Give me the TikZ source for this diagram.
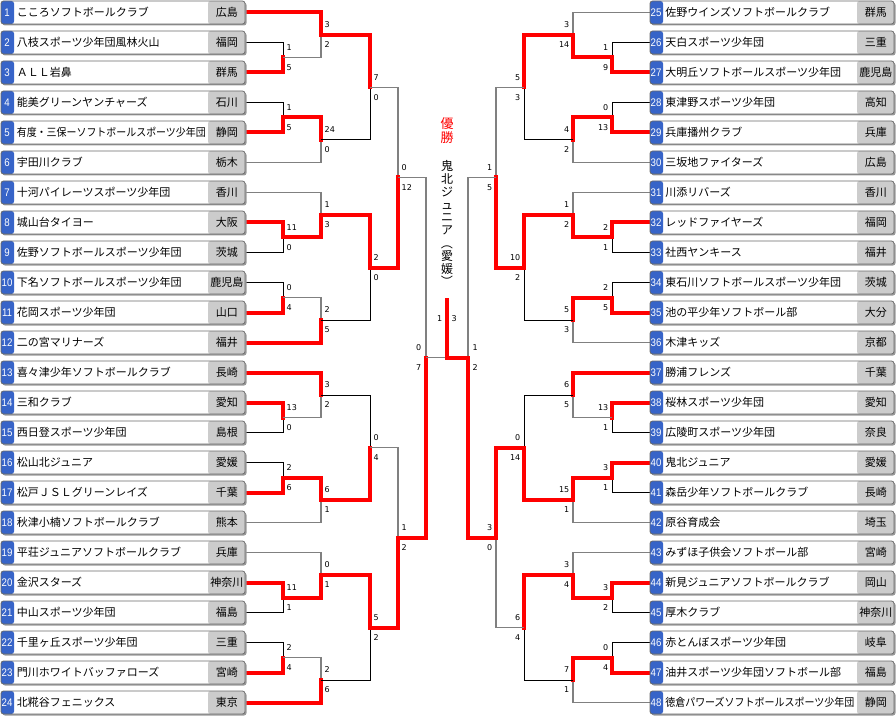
\documentclass[tikz,border=0pt]{standalone}
\usepackage{fontspec}
\usepackage{graphicx}
\newfontfamily\jp{Noto Sans CJK JP}
\newfontfamily\numfont{DejaVu Sans}
\newfontfamily\idfont{Liberation Sans}
\usetikzlibrary{calc}
\usetikzlibrary{shadows}
\definecolor{IDblue}{RGB}{55,100,200}
\definecolor{PF}{RGB}{204,204,204}
\definecolor{WIN}{RGB}{255,0,0}
\definecolor{EDGE}{RGB}{105,105,105}
\pgfdeclarelayer{background}
\pgfsetlayers{background,main}
\newcommand\fitname[1]{\sbox0{#1}\ifdim\wd0>189pt\resizebox{189pt}{\height}{#1}\else#1\fi}
% one game: name, x of the joint, upper, lower, upper score, lower score, loser line, score style
\newcommand\bout[8]{%
  \coordinate (#1m) at ($(#3)!.5!(#4)$);
  \coordinate (#1) at (#2,0 |- #1m);
  \ifnum#5>#6\relax
    \draw[#7] (#4) -| (#1);
    \draw[win] (#3) -| (#1);
  \else
    \draw[#7] (#3) -| (#1);
    \draw[win] (#4) -| (#1);
  \fi
  \node[#8,yshift=10pt] (#1u) at (#1) {#5};
  \node[#8,yshift=-10pt] (#1d) at (#1) {#6};}
\tikzset{
  teambox/.style={rectangle,rounded corners=2.5pt,minimum width=244pt,minimum height=23pt,
    inner sep=0pt,draw=EDGE,line width=0.8pt,fill=white,
    drop shadow={shadow xshift=1.5pt,shadow yshift=-1.5pt,fill=black!40,opacity=1},
    path picture={
      \fill[IDblue] (path picture bounding box.north west) rectangle ([xshift=13pt]path picture bounding box.south west);
      \fill[PF] ([xshift=-37pt]path picture bounding box.north east) rectangle (path picture bounding box.south east);}},
  idtext/.style={font=\idfont\fontsize{11}{11}\selectfont,text=white,inner sep=0pt},
  nametext/.style={font=\jp\fontsize{11}{13}\selectfont,inner sep=0pt,anchor=west},
  preftext/.style={font=\jp\fontsize{11}{13}\selectfont,inner sep=0pt},
  win/.style={draw=WIN,line width=4pt,line cap=rect},
  loseB/.style={draw=black,line width=1pt},
  loseG/.style={draw=black!50,line width=1.2pt},
  score/.style={font=\numfont\fontsize{8}{8}\selectfont,inner sep=0.5pt},
  scL/.style={score,anchor=west,xshift=3pt},
  scR/.style={score,anchor=east,xshift=-3pt},
  scLs/.style={score,anchor=east,xshift=-4pt},
  scRs/.style={score,anchor=west,xshift=4pt},
}
\begin{document}
\begin{tikzpicture}[x=1pt,y=-1pt]
\useasboundingbox (0,0) rectangle (896,719);
% teams, left half
\foreach \i/\nm/\pf in {1/こころソフトボールクラブ/広島,2/八枝スポーツ少年団風林火山/福岡,
  3/ＡＬＬ岩鼻/群馬,4/能美グリーンヤンチャーズ/石川,5/有度・三保ーソフトボールスポーツ少年団/静岡,
  6/宇田川クラブ/栃木,7/十河パイレーツスポーツ少年団/香川,8/城山台タイヨー/大阪,
  9/佐野ソフトボールスポーツ少年団/茨城,10/下名ソフトボールスポーツ少年団/鹿児島,
  11/花岡スポーツ少年団/山口,12/二の宮マリナーズ/福井,13/喜々津少年ソフトボールクラブ/長崎,
  14/三和クラブ/愛知,15/西日登スポーツ少年団/島根,16/松山北ジュニア/愛媛,
  17/松戸ＪＳＬグリーンレイズ/千葉,18/秋津小楠ソフトボールクラブ/熊本,
  19/平荘ジュニアソフトボールクラブ/兵庫,20/金沢スターズ/神奈川,21/中山スポーツ少年団/福島,
  22/千里ヶ丘スポーツ少年団/三重,23/門川ホワイトバッファローズ/宮崎,24/北糀谷フェニックス/東京}{
  \node[teambox] (t\i) at (123,{12.5+30*(\i-1)}) {};
  \node[idtext] (k\i) at ([xshift=6.5pt]t\i.west) {\scalebox{0.88}[1]{\i}};
  \node[nametext] (n\i) at ([xshift=16pt]t\i.west) {\fitname{\nm}};
  \node[preftext] (p\i) at ([xshift=-18.5pt]t\i.east) {\pf};
}
% teams, right half
\foreach \i/\nm/\pf in {25/佐野ウインズソフトボールクラブ/群馬,26/天白スポーツ少年団/三重,
  27/大明丘ソフトボールスポーツ少年団/鹿児島,28/東津野スポーツ少年団/高知,29/兵庫播州クラブ/兵庫,
  30/三坂地ファイターズ/広島,31/川添リバーズ/香川,32/レッドファイヤーズ/福岡,33/社西ヤンキース/福井,
  34/東石川ソフトボールスポーツ少年団/茨城,35/池の平少年ソフトボール部/大分,36/木津キッズ/京都,
  37/勝浦フレンズ/千葉,38/桜林スポーツ少年団/愛知,39/広陵町スポーツ少年団/奈良,40/鬼北ジュニア/愛媛,
  41/森岳少年ソフトボールクラブ/長崎,42/原谷育成会/埼玉,43/みずほ子供会ソフトボール部/宮崎,
  44/新見ジュニアソフトボールクラブ/岡山,45/厚木クラブ/神奈川,46/赤とんぼスポーツ少年団/岐阜,
  47/油井スポーツ少年団ソフトボール部/福島,48/徳倉パワーズソフトボールスポーツ少年団/静岡}{
  \node[teambox] (t\i) at (772,{12.5+30*(\i-25)}) {};
  \node[idtext] (k\i) at ([xshift=6.5pt]t\i.west) {\scalebox{0.88}[1]{\i}};
  \node[nametext] (n\i) at ([xshift=15.5pt]t\i.west) {\fitname{\nm}};
  \node[preftext] (p\i) at ([xshift=-18.5pt]t\i.east) {\pf};
}
\begin{pgfonlayer}{background}
% left half
\bout{la1}{283}{t2.east}{t3.east}{1}{5}{loseB}{scL}
\bout{la2}{321}{t1.east}{la1}{3}{2}{loseG}{scL}
\bout{lb1}{283}{t4.east}{t5.east}{1}{5}{loseB}{scL}
\bout{lb2}{321}{lb1}{t6.east}{24}{0}{loseG}{scL}
\bout{lq1}{370}{la2}{lb2}{7}{0}{loseB}{scL}
\bout{lc1}{283}{t8.east}{t9.east}{11}{0}{loseB}{scL}
\bout{lc2}{321}{t7.east}{lc1}{1}{3}{loseG}{scL}
\bout{ld1}{283}{t10.east}{t11.east}{0}{4}{loseB}{scL}
\bout{ld2}{321}{ld1}{t12.east}{2}{5}{loseG}{scL}
\bout{lq2}{370}{lc2}{ld2}{2}{0}{loseB}{scL}
\bout{lx1}{398}{lq1}{lq2}{0}{12}{loseG}{scL}
\bout{le1}{283}{t14.east}{t15.east}{13}{0}{loseB}{scL}
\bout{le2}{321}{t13.east}{le1}{3}{2}{loseG}{scL}
\bout{lf1}{283}{t16.east}{t17.east}{2}{6}{loseB}{scL}
\bout{lf2}{321}{lf1}{t18.east}{6}{1}{loseG}{scL}
\bout{lq3}{370}{le2}{lf2}{0}{4}{loseB}{scL}
\bout{lg1}{283}{t20.east}{t21.east}{11}{1}{loseB}{scL}
\bout{lg2}{321}{t19.east}{lg1}{0}{1}{loseG}{scL}
\bout{lh1}{283}{t22.east}{t23.east}{2}{4}{loseB}{scL}
\bout{lh2}{321}{lh1}{t24.east}{2}{6}{loseG}{scL}
\bout{lq4}{370}{lg2}{lh2}{5}{2}{loseB}{scL}
\bout{lx2}{398}{lq3}{lq4}{1}{2}{loseG}{scL}
\bout{lsemi}{426}{lx1}{lx2}{0}{7}{loseG}{scLs}
% right half
\bout{ra1}{612}{t26.west}{t27.west}{1}{9}{loseB}{scR}
\bout{ra2}{573}{t25.west}{ra1}{3}{14}{loseG}{scR}
\bout{rb1}{612}{t28.west}{t29.west}{0}{13}{loseB}{scR}
\bout{rb2}{573}{rb1}{t30.west}{4}{2}{loseG}{scR}
\bout{rq1}{524}{ra2}{rb2}{5}{3}{loseB}{scR}
\bout{rc1}{612}{t32.west}{t33.west}{2}{1}{loseB}{scR}
\bout{rc2}{573}{t31.west}{rc1}{1}{2}{loseG}{scR}
\bout{rd1}{612}{t34.west}{t35.west}{2}{5}{loseB}{scR}
\bout{rd2}{573}{rd1}{t36.west}{5}{3}{loseG}{scR}
\bout{rq2}{524}{rc2}{rd2}{10}{2}{loseB}{scR}
\bout{rx1}{496}{rq1}{rq2}{1}{5}{loseG}{scR}
\bout{re1}{612}{t38.west}{t39.west}{13}{1}{loseB}{scR}
\bout{re2}{573}{t37.west}{re1}{6}{5}{loseG}{scR}
\bout{rf1}{612}{t40.west}{t41.west}{3}{1}{loseB}{scR}
\bout{rf2}{573}{rf1}{t42.west}{15}{1}{loseG}{scR}
\bout{rq3}{524}{re2}{rf2}{0}{14}{loseB}{scR}
\bout{rg1}{612}{t44.west}{t45.west}{3}{2}{loseB}{scR}
\bout{rg2}{573}{t43.west}{rg1}{3}{4}{loseG}{scR}
\bout{rh1}{612}{t46.west}{t47.west}{0}{4}{loseB}{scR}
\bout{rh2}{573}{rh1}{t48.west}{7}{1}{loseG}{scR}
\bout{rq4}{524}{rg2}{rh2}{6}{4}{loseB}{scR}
\bout{rx2}{496}{rq3}{rq4}{3}{0}{loseG}{scR}
\bout{rsemi}{468}{rx1}{rx2}{1}{2}{loseG}{scRs}
% final
\coordinate (fin) at ($(lsemi)!.5!(rsemi)$);
\coordinate (champ) at (447,300);
\draw[loseG] (lsemi) -- (fin);
\draw[win] (rsemi) -- (fin) -- (champ);
\node[score,anchor=east] (finL) at (443,319) {1};
\node[score,anchor=west] (finR) at (451,319) {3};
\end{pgfonlayer}
\node[text=WIN,font=\jp\fontsize{13}{14}\selectfont,align=center,inner sep=0pt] (yusho) at (447,131) {優\\勝};
\node[font=\jp\fontsize{12}{12.8}\selectfont,align=center,inner sep=0pt] (champname) at (447,224)
  {鬼\\北\\ジ\\ュ\\ニ\\ア\\\rotatebox[origin=c]{-90}{（}\\愛\\媛\\\rotatebox[origin=c]{-90}{）}};
\end{tikzpicture}
\end{document}
